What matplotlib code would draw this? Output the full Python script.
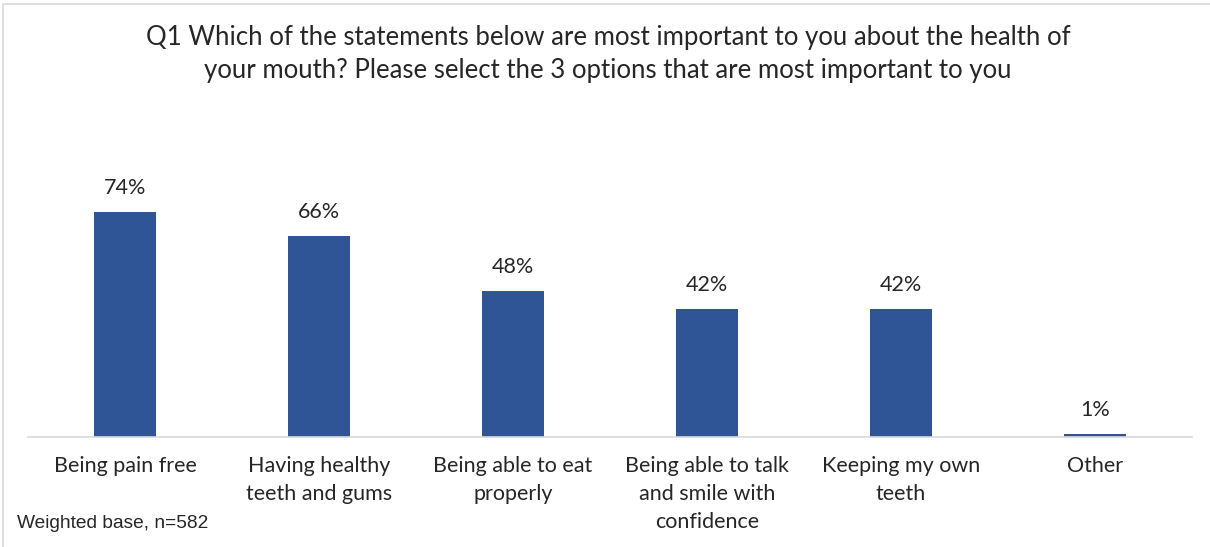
import matplotlib.pyplot as plt
from matplotlib.patches import Rectangle

# survey answers, share of respondents (%)
categories = ["Being pain free", "Having healthy\nteeth and gums", "Being able to eat\nproperly",
              "Being able to talk\nand smile with\nconfidence", "Keeping my own\nteeth", "Other"]
values = [74, 66, 48, 42, 42, 1]
value_labels = ["74%", "66%", "48%", "42%", "42%", "1%"]

title = ("Q1 Which of the statements below are most important to you about the health of\n"
         "your mouth? Please select the 3 options that are most important to you")
base_note = "Weighted base, n=582"

W, H = 1210, 547
fig = plt.figure(figsize=(W / 100, H / 100), dpi=100)
fig.patch.set_facecolor('white')

# thin grey frame round the chart area
fig.patches.append(Rectangle((3 / W, -0.1), 1.2, (H - 3.5) / H + 0.1, transform=fig.transFigure,
                             fill=False, edgecolor='#d9d9d9', linewidth=1.2))

base_y = 436.7
ax = fig.add_axes([28 / W, (H - base_y) / H, 1164 / W, 80 * 3.04 / H])
x = list(range(len(categories)))
ax.bar(x, values, width=0.32, color='#2f5597')
ax.set_xlim(-0.5, 5.5)
ax.set_ylim(0, 80)

for s in ['top', 'right', 'left']:
    ax.spines[s].set_visible(False)
ax.spines['bottom'].set_color('#d9d9d9')
ax.spines['bottom'].set_linewidth(1.2)
ax.set_yticks([])
ax.set_xticks(x)
ax.set_xticklabels(categories, fontsize=15.5, family='Lato', color='#262626', linespacing=1.5, va='top')
ax.tick_params(axis='x', length=0, pad=14)

for xi, v, lab in zip(x, values, value_labels):
    ax.annotate(lab, (xi, v), xytext=(0, 17), textcoords='offset points', ha='center', va='center',
                fontsize=15.5, family='Lato', color='#262626')

fig.text(608 / W, 1 - 54 / H, title, ha='center', va='center', fontsize=18.5, family='Lato',
         color='#262626', linespacing=1.4)
fig.text(17 / W, 1 - 523 / H, base_note, ha='left', va='center', fontsize=13.8,
         family='Liberation Sans', color='#262626')

fig.savefig('out.png', dpi=100)
